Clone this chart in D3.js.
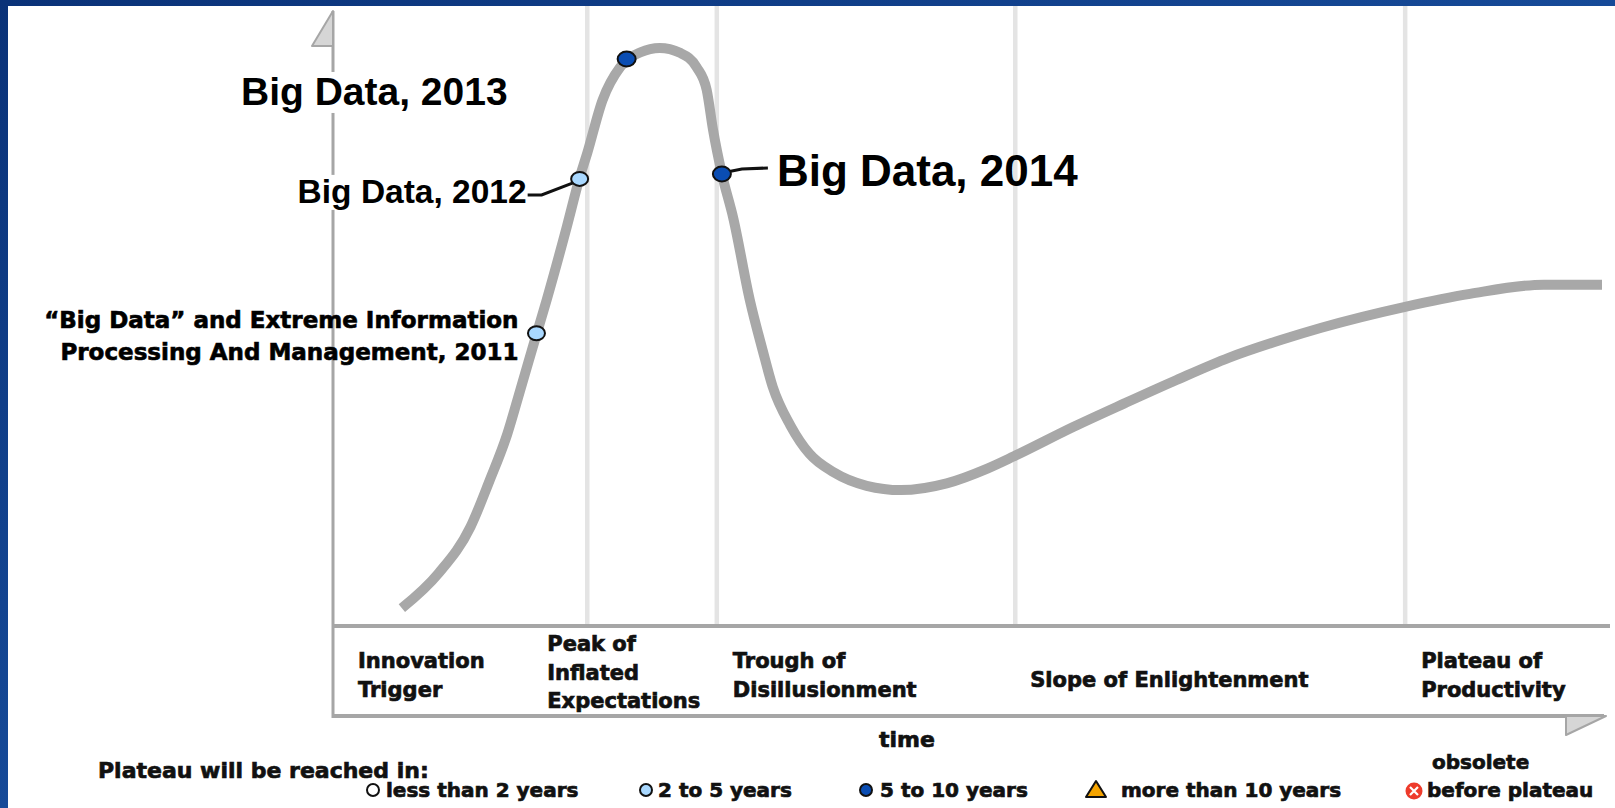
<!DOCTYPE html>
<html><head><meta charset="utf-8">
<script src="https://cdn.jsdelivr.net/npm/d3@7"></script>
<style>html,body{margin:0;padding:0;background:#0d3a85;overflow:hidden}</style>
</head><body><svg id="chart" width="1615" height="808"></svg>
<script>
// ---------- data ----------
const curveTime   = [5.5, 8.4, 10.9, 12.4, 13.8, 14.8, 16.1, 16.9, 18.5, 19.5, 20.1, 21.3, 22.7, 24.3, 25.8, 27.4, 28.7, 29.5, 30.0, 30.7, 31.6, 32.9, 33.9, 34.7, 36.1, 37.6, 39.5, 42.1, 44.8, 48.4, 51.6, 53.7, 58.4, 62.4, 66.5, 70.6, 74.7, 77.9, 84.5, 89.6, 95.4, 100];
const curveExpect = [2.9, 8.6, 16.1, 23.6, 31.2, 38.2, 47.4, 53.0, 65.0, 72.9, 76.9, 85.5, 90.9, 93.3, 94.0, 93.2, 90.9, 87.2, 80.7, 73.5, 66.3, 53.0, 44.9, 38.9, 32.6, 28.0, 25.0, 22.8, 22.1, 23.2, 25.6, 27.6, 32.4, 36.2, 40.0, 43.6, 46.5, 48.5, 51.9, 54.0, 55.5, 55.5];

const phaseNames = [["Innovation", "Trigger"], ["Peak of", "Inflated", "Expectations"], ["Trough of", "Disillusionment"], ["Slope of Enlightenment"], ["Plateau of", "Productivity"]];
const phaseBoundaries = [20.1, 30.3, 53.8, 84.5];

const pointLabels   = [["“Big Data” and Extreme Information", "Processing And Management, 2011"], ["Big Data, 2012"], ["Big Data, 2013"], ["Big Data, 2014"]];
const pointTime     = [16.1, 19.5, 23.2, 30.7];
const pointExpect   = [47.6, 72.7, 92.2, 73.5];
const pointCategory = [1, 1, 2, 2];

const legendTitle  = "Plateau will be reached in:";
const legendLabels = ["less than 2 years", "2 to 5 years", "5 to 10 years", "more than 10 years", "before plateau"];
const legendExtra  = "obsolete";
const xAxisTitle   = "time";

// ---------- layout ----------
const W = 1615, H = 808;
const svg = d3.select("#chart");
const defs = svg.append("defs");
const grad = defs.append("linearGradient").attr("id", "frame").attr("x1", 0).attr("y1", 0).attr("x2", 1).attr("y2", 1);
grad.append("stop").attr("offset", "0%").attr("stop-color", "#0a3278");
grad.append("stop").attr("offset", "50%").attr("stop-color", "#164a98");
grad.append("stop").attr("offset", "100%").attr("stop-color", "#082a66");
svg.append("rect").attr("width", W).attr("height", H).attr("fill", "url(#frame)");
svg.append("rect").attr("x", 8).attr("y", 6).attr("width", W - 8).attr("height", H - 6).attr("fill", "#fff");

const x = d3.scaleLinear().domain([0, 100]).range([332, 1602]);
const y = d3.scaleLinear().domain([0, 100]).range([626, 11]);
const boxBottom = 716;

const FONT_WIDE = "'DejaVu Sans', Verdana, sans-serif";
const FONT_ARIAL = "'Liberation Sans', Arial, Helvetica, sans-serif";
const axisGray = "#a6a6a6";
const ink = "#111";

// phase gridlines
svg.append("g").selectAll("line").data(phaseBoundaries).join("line")
  .attr("x1", d => x(d)).attr("x2", d => x(d))
  .attr("y1", 6).attr("y2", y(0))
  .attr("stroke", "#e4e4e4").attr("stroke-width", 4.5);

// box / axes
const axes = svg.append("g").attr("stroke", axisGray).attr("fill", "none");
axes.append("line").attr("x1", x(0) + 1).attr("x2", 1610).attr("y1", y(0)).attr("y2", y(0)).attr("stroke-width", 4);
axes.append("line").attr("x1", x(0) + 1).attr("x2", 1604).attr("y1", boxBottom).attr("y2", boxBottom).attr("stroke-width", 4);
axes.append("line").attr("x1", x(0) + 1).attr("x2", x(0) + 1).attr("y1", y(100)).attr("y2", boxBottom + 2).attr("stroke-width", 3);
// arrows
svg.append("path")
  .attr("d", `M${x(0) + 1},${y(100)} L${x(0) + 1},${y(100) + 35} L${x(0) - 20},${y(100) + 35} Z`)
  .attr("fill", "#d6d6d6").attr("stroke", axisGray).attr("stroke-width", 2).attr("stroke-linejoin", "round");
svg.append("path")
  .attr("d", `M1566,${boxBottom} L1606,${boxBottom} L1566,${boxBottom + 19} Z`)
  .attr("fill", "#d6d6d6").attr("stroke", axisGray).attr("stroke-width", 2).attr("stroke-linejoin", "round");

const labelG = svg.append("g");

// hype curve
const curveData = curveTime.map((t, i) => [t, curveExpect[i]]);
svg.append("path").datum(curveData)
  .attr("d", d3.line().x(d => x(d[0])).y(d => y(d[1])).curve(d3.curveMonotoneX))
  .attr("fill", "none").attr("stroke", "#a8a8a8").attr("stroke-width", 10);

// phase labels
const phaseLayout = [
  { x: x(0) + 26, y0: 668 },
  { x: x(phaseBoundaries[0]) - 40, y0: 651 },
  { x: x(phaseBoundaries[1]) + 16, y0: 668 },
  { x: x(phaseBoundaries[2]) + 15, y0: 687 },
  { x: x(phaseBoundaries[3]) + 16, y0: 668 }
];
const heavy = sel => sel.attr("stroke", ink).attr("stroke-width", 0.7).attr("paint-order", "stroke");
const phaseG = svg.append("g").attr("font-family", FONT_WIDE).attr("font-weight", "bold").attr("font-size", 21).attr("fill", ink).call(heavy);
phaseNames.forEach((lines, i) => {
  const t = phaseG.append("text").attr("x", phaseLayout[i].x).attr("y", phaseLayout[i].y0);
  lines.forEach((ln, j) => t.append("tspan").attr("x", phaseLayout[i].x).attr("y", phaseLayout[i].y0 + j * 28.5).text(ln));
});

// x-axis title
svg.append("text").attr("x", 907).attr("y", 747).attr("text-anchor", "middle").call(heavy)
  .attr("font-family", FONT_WIDE).attr("font-weight", "bold").attr("font-size", 22).attr("fill", ink).text(xAxisTitle);

// point labels & leaders
const catFill = ["#ffffff", "#a9d8ff", "#0a4db3", "#f5a400", "#ee3b2b"];
const labelLayout = [
  { dx: -18, dy: -5, anchor: "end", font: FONT_WIDE, size: 23, lh: 32, bg: false, heavy: true, leader: null },
  { dx: -53, dy: 24, anchor: "end", font: FONT_ARIAL, size: 33.5, lh: 0, bg: true, heavy: false, leader: [[-52, 16], [-38, 16], [-4, 3]] },
  { dx: -119, dy: 46, anchor: "end", font: FONT_ARIAL, size: 39, lh: 0, bg: true, heavy: false, leader: null },
  { dx: 55, dy: 12, anchor: "start", font: FONT_ARIAL, size: 44, lh: 0, bg: false, heavy: false, leader: [[5, -2], [20, -5], [46, -6]] }
];
pointLabels.forEach((lines, i) => {
  const L = labelLayout[i];
  const px = x(pointTime[i]), py = y(pointExpect[i]);
  const t = labelG.append("text").attr("text-anchor", L.anchor)
    .attr("font-family", L.font).attr("font-weight", "bold").attr("font-size", L.size).attr("fill", "#000");
  if (L.heavy) t.call(heavy);
  lines.forEach((ln, j) => t.append("tspan").attr("x", px + L.dx).attr("y", py + L.dy + j * L.lh).text(ln));
  if (L.bg) {
    const bb = t.node().getBBox();
    labelG.insert("rect", () => t.node())
      .attr("x", bb.x - 4).attr("y", bb.y + 2).attr("width", bb.width + 8).attr("height", bb.height - 2).attr("fill", "#fff");
  }
  if (L.leader) {
    svg.append("path").datum(L.leader)
      .attr("d", d3.line().x(d => px + d[0]).y(d => py + d[1]))
      .attr("fill", "none").attr("stroke", ink).attr("stroke-width", 3);
  }
});

// points
svg.append("g").selectAll("ellipse").data(pointTime).join("ellipse")
  .attr("cx", (d, i) => x(d)).attr("cy", (d, i) => y(pointExpect[i]))
  .attr("rx", (d, i) => pointCategory[i] === 2 ? 9 : 8.5).attr("ry", (d, i) => pointCategory[i] === 2 ? 7.5 : 7)
  .attr("fill", (d, i) => catFill[pointCategory[i]]).attr("stroke", ink).attr("stroke-width", 2);

// legend
const lg = svg.append("g").attr("font-family", FONT_WIDE).attr("font-weight", "bold").attr("fill", ink);
lg.append("text").attr("x", 98).attr("y", 778).attr("font-size", 22).call(heavy).text(legendTitle);
const legendMarkX = [373, 646, 866, 1096, 1414];
const legendTextX = [386, 658, 880, 1121, 1427];
const legendY = 790;
legendLabels.forEach((lab, i) => {
  const mx = legendMarkX[i];
  if (i < 3) {
    lg.append("circle").attr("cx", mx).attr("cy", legendY).attr("r", 6)
      .attr("fill", catFill[i]).attr("stroke", ink).attr("stroke-width", 2);
  } else if (i === 3) {
    lg.append("path").attr("d", `M${mx},${legendY - 9} L${mx + 10},${legendY + 7} L${mx - 10},${legendY + 7} Z`)
      .attr("fill", catFill[3]).attr("stroke", ink).attr("stroke-width", 2).attr("stroke-linejoin", "round");
  } else {
    lg.append("circle").attr("cx", mx).attr("cy", legendY + 1).attr("r", 8.5).attr("fill", catFill[4]);
    lg.append("path").attr("d", `M${mx - 4},${legendY - 3} L${mx + 4},${legendY + 5} M${mx + 4},${legendY - 3} L${mx - 4},${legendY + 5}`)
      .attr("stroke", "#fff").attr("stroke-width", 2.2);
  }
  lg.append("text").attr("x", legendTextX[i]).attr("y", 797).attr("font-size", 20).call(heavy).text(lab);
});
lg.append("text").attr("x", 1432).attr("y", 769).attr("font-size", 20).call(heavy).text(legendExtra);
</script></body></html>
